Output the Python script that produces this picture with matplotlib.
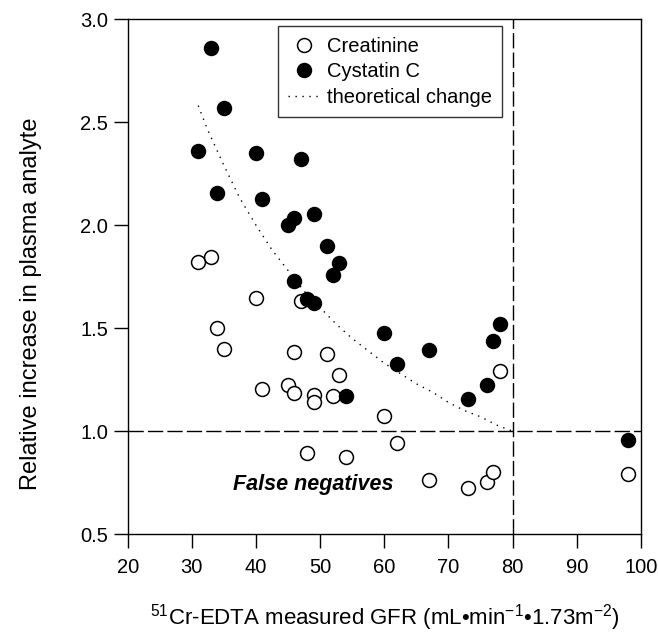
import matplotlib
matplotlib.use("Agg")
import matplotlib.pyplot as plt

plt.rcParams['font.family'] = ['Liberation Sans', 'DejaVu Sans']
plt.rcParams['mathtext.fontset'] = 'custom'
plt.rcParams['mathtext.rm'] = 'Liberation Sans'
plt.rcParams['mathtext.it'] = 'Liberation Sans:italic'

# Creatinine (open circles)
creat_gfr = [31, 33, 34, 35, 40, 41, 45, 46, 46, 47, 48, 49, 49, 51, 52, 53, 54,
             60, 62, 67, 73, 76, 77, 78, 98]
creat_rel = [1.82, 1.845, 1.50, 1.40, 1.645, 1.205, 1.225, 1.383, 1.184, 1.634, 0.893,
             1.175, 1.144, 1.375, 1.173, 1.273, 0.874, 1.076, 0.945, 0.764, 0.726,
             0.755, 0.80, 1.29, 0.793]

# Cystatin C (filled circles)
cyst_gfr = [31, 33, 34, 35, 40, 41, 45, 46, 46, 47, 48, 49, 49, 51, 52, 53, 54,
            60, 62, 67, 73, 76, 77, 78, 98]
cyst_rel = [2.36, 2.86, 2.155, 2.57, 2.35, 2.126, 2.00, 2.034, 1.73, 2.32, 1.64,
            2.055, 1.62, 1.90, 1.76, 1.815, 1.171, 1.476, 1.327, 1.395, 1.157,
            1.225, 1.438, 1.52, 0.958]

# theoretical change (dotted curve)
theo_gfr = [31, 32.5, 35, 37.5, 40, 42.5, 45, 47.5, 50, 52.5, 55, 57.5, 60,
            62.5, 65, 67.5, 70, 72.5, 75, 77.5, 80]
theo_rel = [2.58, 2.46, 2.29, 2.13, 2.0, 1.88, 1.78, 1.68, 1.6, 1.52, 1.45, 1.39,
            1.33, 1.28, 1.23, 1.19, 1.14, 1.10, 1.07, 1.03, 1.0]

gfr_cutoff = 80
rel_cutoff = 1.0

xticks = [20, 30, 40, 50, 60, 70, 80, 90, 100]
yticks = [0.5, 1.0, 1.5, 2.0, 2.5, 3.0]

fig = plt.figure(figsize=(6.58, 6.36), dpi=100)
ax = fig.add_axes([0.194, 0.160, 0.780, 0.810])

ax.axvline(gfr_cutoff, color='black', lw=1.0, dashes=(11, 3), zorder=1)
ax.axhline(rel_cutoff, color='black', lw=1.0, dashes=(11, 3), zorder=1)

ax.plot(creat_gfr, creat_rel, 'o', ms=10, mfc='white', mec='black', mew=1.1,
        label='Creatinine', zorder=3)
ax.plot(cyst_gfr, cyst_rel, 'o', ms=10, mfc='black', mec='black', mew=1.1,
        label='Cystatin C', zorder=3)
ax.plot(theo_gfr, theo_rel, color='black', lw=1.0, linestyle=(0, (1, 4)),
        label='theoretical change', zorder=2)

ax.text(49, 0.742, 'False negatives', fontsize=15.5, fontweight='bold',
        fontstyle='italic', ha='center', va='center')

ax.set_xlim(20, 100)
ax.set_ylim(0.5, 3.0)
ax.set_xticks(xticks)
ax.set_yticks(yticks)
ax.set_yticklabels([f"{v:.1f}" for v in yticks])
ax.tick_params(direction='out', length=10, width=1, labelsize=14.5,
               top=False, right=False)
ax.tick_params(axis='x', pad=7)
ax.tick_params(axis='y', pad=4)
for s in ax.spines.values():
    s.set_linewidth(1.0)

ax.set_xlabel(r"$^{51}$Cr-EDTA measured GFR (mL•min$^{-1}$•1.73m$^{-2}$)",
              fontsize=16, labelpad=18)
ax.set_ylabel("Relative increase in plasma analyte", fontsize=17)
ax.yaxis.set_label_coords(-0.167, 0.447)

leg = ax.legend(loc='upper left', bbox_to_anchor=(0.2936, 0.9856), borderaxespad=0,
                fontsize=14.5, frameon=True, fancybox=False, edgecolor='black',
                handlelength=1.5, handletextpad=0.4, labelspacing=0.33,
                borderpad=0.5, numpoints=1)
leg.get_frame().set_linewidth(1.0)

fig.savefig('out.png', dpi=100)
